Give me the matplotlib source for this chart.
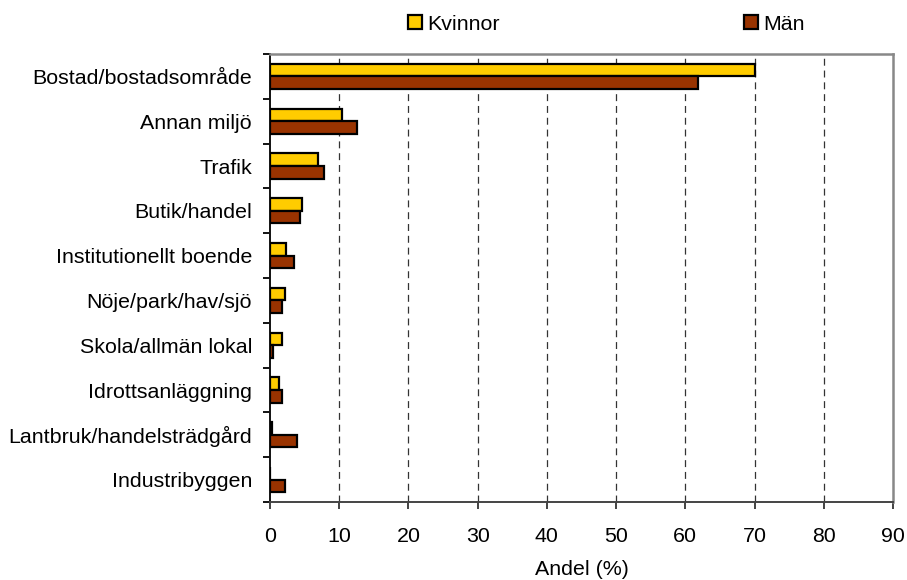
import matplotlib
matplotlib.use("Agg")
import matplotlib.pyplot as plt
import numpy as np
from matplotlib.patches import Patch

plt.rcParams['font.family'] = ['Liberation Sans', 'DejaVu Sans']
plt.rcParams['lines.scale_dashes'] = False

categories = [
    "Bostad/bostadsområde",
    "Annan miljö",
    "Trafik",
    "Butik/handel",
    "Institutionellt boende",
    "Nöje/park/hav/sjö",
    "Skola/allmän lokal",
    "Idrottsanläggning",
    "Lantbruk/handelsträdgård",
    "Industribyggen",
]
kvinnor = [70.0, 10.4, 7.0, 4.6, 2.3, 2.1, 1.8, 1.3, 0.3, 0.0]
man = [61.8, 12.6, 7.8, 4.3, 3.5, 1.7, 0.4, 1.7, 3.9, 2.2]
xticks = [0, 10, 20, 30, 40, 50, 60, 70, 80, 90]
series_labels = ["Kvinnor", "Män"]
xlabel = "Andel (%)"

col_k = "#FFCC00"
col_m = "#993300"
fs = 15.4

fig = plt.figure(figsize=(9.07, 5.80), dpi=100)
ax = fig.add_axes([270 / 907, 1 - 502 / 580, (893 - 270) / 907, (502 - 54) / 580])

y = np.arange(len(categories))
h = 0.28
ax.barh(y - h / 2, kvinnor, height=h, color=col_k, edgecolor="black",
        linewidth=1.6, zorder=3)
ax.barh(y + h / 2, man, height=h, color=col_m, edgecolor="black",
        linewidth=1.6, zorder=3)

ax.set_xlim(0, 90)
ax.set_ylim(len(categories) - 0.5, -0.5)

# category labels centred, tick marks on category boundaries
ax.set_yticks(y)
ax.set_yticklabels(categories, fontsize=fs)
ax.tick_params(axis="y", which="major", length=0, pad=13)
ax.set_yticks(np.arange(len(categories) + 1) - 0.5, minor=True)
ax.tick_params(axis="y", which="minor", length=5, width=1.3, direction="out",
               color="black")

ax.set_xticks(xticks)
ax.set_xticklabels([str(v) for v in xticks], fontsize=fs)
ax.tick_params(axis="x", which="major", length=5, width=1.2, direction="out",
               pad=13, color="#222222")
ax.set_xlabel(xlabel, fontsize=fs, labelpad=10)

for v in xticks[1:-1]:
    ax.axvline(v, color="#333333", linewidth=0.9, linestyle=(0, (5, 3.5)),
               zorder=1)

ax.spines["left"].set_color("#111111")
ax.spines["left"].set_linewidth(1.4)
ax.spines["bottom"].set_color("#444444")
ax.spines["bottom"].set_linewidth(1.4)
for s in ("top", "right"):
    ax.spines[s].set_color("#888888")
    ax.spines[s].set_linewidth(1.8)

handles = [Patch(facecolor=col_k, edgecolor="black", linewidth=1.6),
           Patch(facecolor=col_m, edgecolor="black", linewidth=1.6)]
fig.legend(handles, series_labels, loc="center left",
           bbox_to_anchor=(408 / 907, 1 - 24 / 580), ncol=2, frameon=False,
           fontsize=fs, handlelength=0.66, handleheight=0.66,
           handletextpad=0.25, columnspacing=11.4, borderpad=0, borderaxespad=0)

fig.savefig("out.png", dpi=100)
